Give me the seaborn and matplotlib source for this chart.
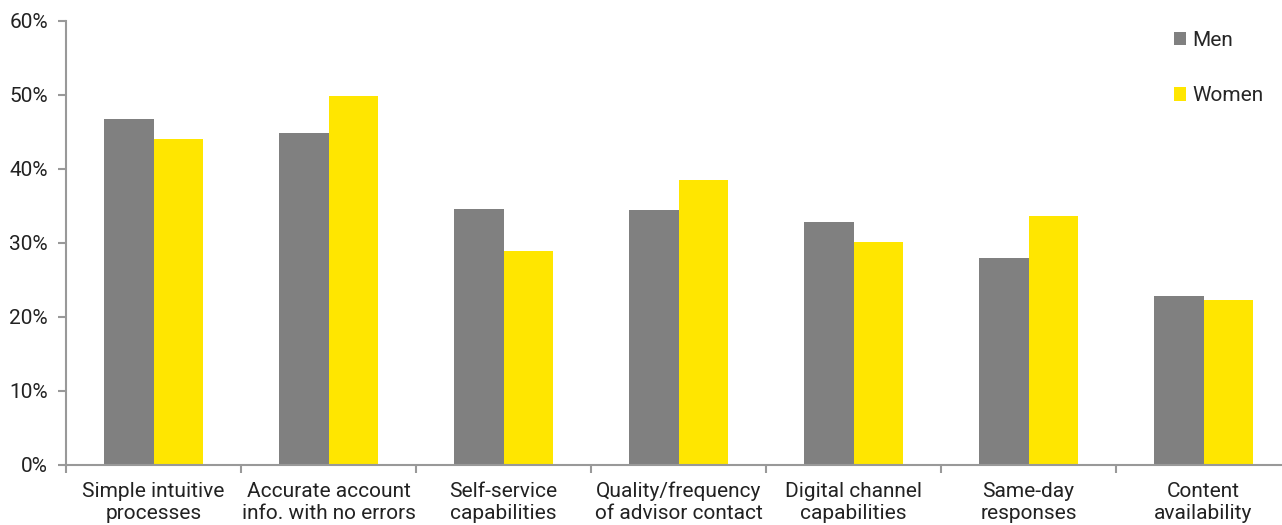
import numpy as np
import pandas as pd
import matplotlib
matplotlib.use("Agg")
import matplotlib.pyplot as plt
import seaborn as sns
from matplotlib.ticker import PercentFormatter

# Data
categories = ["Simple intuitive\nprocesses", "Accurate account\ninfo. with no errors",
              "Self-service\ncapabilities", "Quality/frequency\nof advisor contact",
              "Digital channel\ncapabilities", "Same-day\nresponses", "Content\navailability"]
men = [46.8, 44.9, 34.6, 34.4, 32.8, 28.0, 22.9]
women = [44.1, 49.9, 28.9, 38.5, 30.1, 33.6, 22.3]

df = pd.DataFrame({"category": categories * 2,
                   "value": men + women,
                   "group": ["Men"] * len(men) + ["Women"] * len(women)})

sns.set_theme(style="white")
plt.rcParams['font.family'] = ['Roboto', 'DejaVu Sans']

fig = plt.figure(figsize=(12.82, 5.25), dpi=100)
ax = fig.add_axes([66 / 1282, 60 / 525, 1225 / 1282, 444 / 525])

sns.barplot(data=df, x="category", y="value", hue="group", ax=ax,
            palette={"Men": "#808080", "Women": "#FFE600"}, width=0.57,
            saturation=1, linewidth=0)

ax.set_ylim(0, 60)
ax.set_xlim(-0.5, len(categories) - 0.5)
ax.set_yticks(np.arange(0, 61, 10))
ax.yaxis.set_major_formatter(PercentFormatter(decimals=0))
ax.set_xlabel("")
ax.set_ylabel("")

# category boundary ticks on x-axis
ax.set_xticks(np.arange(len(categories)))
ax.set_xticklabels(categories, fontsize=15, color="#222222", linespacing=1.2)
ax.set_xticks(np.arange(-0.5, len(categories), 1), minor=True)
ax.tick_params(axis="x", which="major", length=0, pad=12)
ax.tick_params(axis="x", which="minor", length=6, width=1.5, color="#999999", bottom=True)
ax.tick_params(axis="y", length=6, width=1.5, color="#999999", left=True,
               labelsize=15, labelcolor="#222222", pad=7)

for side in ["top", "right"]:
    ax.spines[side].set_visible(False)
for side in ["left", "bottom"]:
    ax.spines[side].set_color("#999999")
    ax.spines[side].set_linewidth(1.5)

leg = ax.legend(loc="upper left", bbox_to_anchor=((1155 - 66) / 1225, 1.02),
                frameon=False, fontsize=15, handlelength=0.6, handleheight=0.6,
                handletextpad=0.3, labelspacing=1.75)

fig.savefig("out.png", dpi=100)
